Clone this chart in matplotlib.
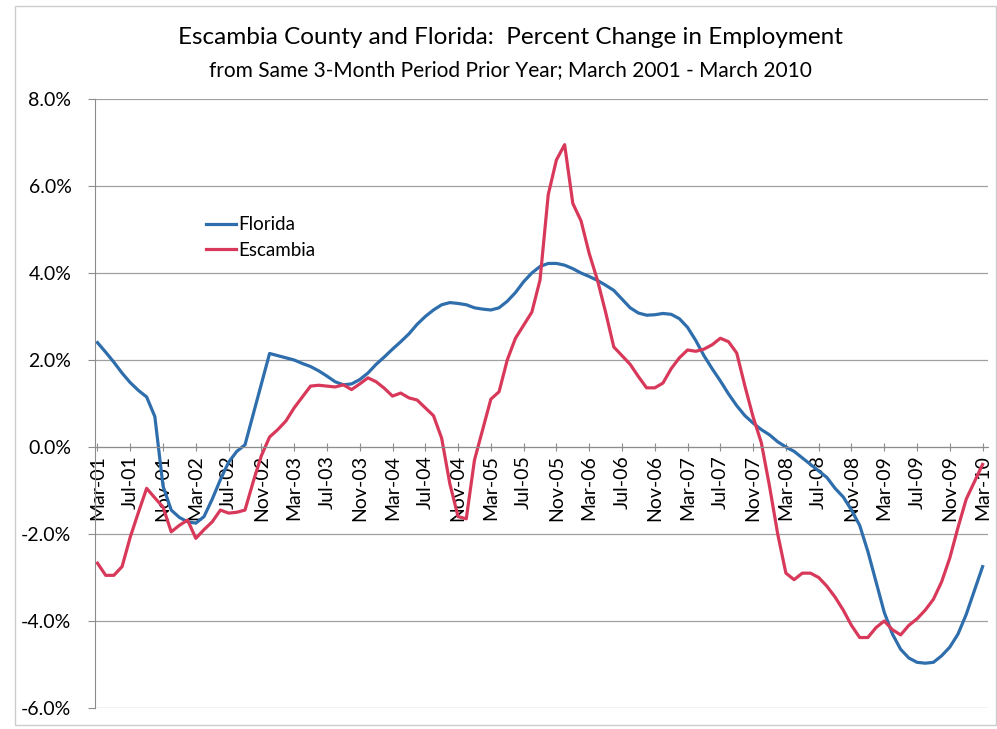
import matplotlib
matplotlib.use('Agg')
import matplotlib.pyplot as plt
import pandas as pd
import numpy as np
from matplotlib.patches import Rectangle

plt.rcParams['font.family'] = ['Lato', 'DejaVu Sans']

# monthly, Mar-2001 .. Mar-2010
months = pd.date_range('2001-03-01', periods=109, freq='MS').strftime('%b-%y').tolist()

florida = [2.40, 2.18, 1.95, 1.70, 1.48, 1.30, 1.15, 0.70, -0.90, -1.45,
           -1.62, -1.72, -1.75, -1.60, -1.20, -0.75, -0.35, -0.10, 0.05, 0.75,
           1.45, 2.15, 2.10, 2.05, 2.00, 1.92, 1.85, 1.75, 1.63, 1.50,
           1.43, 1.45, 1.55, 1.70, 1.90, 2.07, 2.25, 2.42, 2.60, 2.82,
           3.00, 3.15, 3.27, 3.32, 3.30, 3.27, 3.20, 3.17, 3.15, 3.20,
           3.35, 3.55, 3.80, 4.00, 4.15, 4.22, 4.22, 4.18, 4.10, 4.00,
           3.92, 3.83, 3.72, 3.60, 3.40, 3.20, 3.08, 3.03, 3.04, 3.07,
           3.05, 2.95, 2.75, 2.45, 2.10, 1.80, 1.52, 1.22, 0.95, 0.72,
           0.55, 0.40, 0.28, 0.12, 0.00, -0.10, -0.25, -0.40, -0.55, -0.70,
           -0.95, -1.15, -1.45, -1.80, -2.40, -3.10, -3.80, -4.30, -4.65, -4.85,
           -4.95, -4.97, -4.95, -4.80, -4.60, -4.30, -3.85, -3.30, -2.75]

escambia = [-2.67, -2.95, -2.95, -2.75, -2.07, -1.50, -0.95, -1.17, -1.38, -1.95,
            -1.80, -1.68, -2.10, -1.90, -1.72, -1.45, -1.52, -1.50, -1.45, -0.80,
            -0.20, 0.23, 0.40, 0.60, 0.90, 1.15, 1.40, 1.42, 1.40, 1.38,
            1.43, 1.32, 1.45, 1.59, 1.50, 1.35, 1.17, 1.24, 1.13, 1.08,
            0.90, 0.72, 0.20, -0.85, -1.60, -1.65, -0.30, 0.40, 1.10, 1.27,
            2.00, 2.50, 2.80, 3.10, 3.84, 5.80, 6.60, 6.95, 5.60, 5.20,
            4.45, 3.84, 3.10, 2.30, 2.10, 1.90, 1.62, 1.36, 1.36, 1.47,
            1.80, 2.05, 2.23, 2.20, 2.25, 2.35, 2.50, 2.42, 2.16, 1.40,
            0.69, 0.10, -0.90, -2.00, -2.90, -3.05, -2.90, -2.90, -3.00, -3.20,
            -3.45, -3.75, -4.10, -4.38, -4.38, -4.15, -4.00, -4.20, -4.32, -4.10,
            -3.95, -3.75, -3.50, -3.10, -2.55, -1.85, -1.20, -0.80, -0.40]

x = np.arange(len(months))

fig = plt.figure(figsize=(9.97, 7.29), dpi=100)
ax = fig.add_axes([0.0953, 0.0288, 0.896, 0.8354])

ax.plot(x, florida, color='#2f6eac', lw=2.3, label='Florida', solid_joinstyle='round')
ax.plot(x, escambia, color='#d8395a', lw=2.3, label='Escambia', solid_joinstyle='round')

ax.set_ylim(-6, 8)
ax.set_xlim(-0.3, 108.7)
ax.set_yticks(np.arange(-6, 9, 2))
ax.set_yticklabels(['%.1f%%' % v for v in np.arange(-6, 9, 2)], fontsize=14)
ax.yaxis.grid(True, color='#a0a0a0', lw=0.9)
ax.set_axisbelow(True)

ax.spines['bottom'].set_position(('data', 0))
for s in ['top', 'right']:
    ax.spines[s].set_visible(False)
for s in ['left', 'bottom']:
    ax.spines[s].set_color('#8c8c8c')
ax.tick_params(axis='x', direction='inout', length=6, color='#8c8c8c', pad=3)
ax.tick_params(axis='y', length=5, color='#8c8c8c', pad=12)

ax.set_xticks(x[::4])
ax.set_xticklabels(months[::4], fontsize=14)
for lab in ax.get_xticklabels():
    lab.set_rotation(90)
    lab.set_va('top')
    lab.set_ha('center')

ax.legend(loc='upper left', bbox_to_anchor=(0.105, 0.835), frameon=False, fontsize=13.5,
          handlelength=1.6, handletextpad=0.15, labelspacing=0.45)

fig.text(0.512, 0.948, 'Escambia County and Florida:  Percent Change in Employment',
         ha='center', va='center', fontsize=17.5)
fig.text(0.512, 0.904, 'from Same 3-Month Period Prior Year; March 2001 - March 2010',
         ha='center', va='center', fontsize=15)

fig.patches.append(Rectangle((0.015, 0.006), 0.984, 0.986, transform=fig.transFigure,
                             fill=False, edgecolor='#cccccc', lw=1))

fig.savefig('out.png', dpi=100)
